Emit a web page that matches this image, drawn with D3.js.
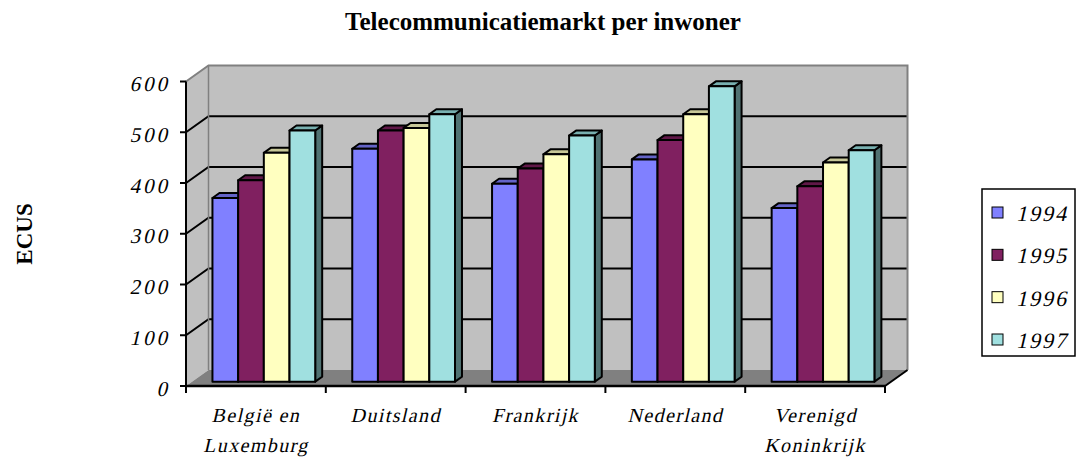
<!DOCTYPE html>
<html>
<head>
<meta charset="utf-8">
<script src="https://cdn.jsdelivr.net/npm/d3@7"></script>
<style>
    body { margin: 0; background: #ffffff; }
    svg { display: block; font-family: "Liberation Serif", "Times New Roman", serif; }
</style>
</head>
<body>
<div class="graph"></div>
<script>
// Chart data
const categories = ["België en Luxemburg", "Duitsland", "Frankrijk", "Nederland", "Verenigd Koninkrijk"];
const tickLabels = [["België en", "Luxemburg"], ["Duitsland"], ["Frankrijk"], ["Nederland"], ["Verenigd", "Koninkrijk"]];
const years = ["1994", "1995", "1996", "1997"];
const values1994 = [362, 459, 390, 438, 342];
const values1995 = [397, 495, 420, 476, 385];
const values1996 = [451, 500, 448, 527, 432];
const values1997 = [495, 527, 485, 582, 456];
const yTicks = [0, 100, 200, 300, 400, 500, 600];

const seriesValues = [values1994, values1995, values1996, values1997];
const colors = ["#8080ff", "#802060", "#ffffc0", "#a0e0e0"];
const topColors = ["#6464c8", "#601848", "#c8c898", "#78b0b0"];
const sideColors = ["#50509c", "#4a1238", "#9c9c76", "#507272"];

// the italic face is missing here, so slant the upright serif by hand
function slanted(sel, x, y) {
    return sel.append("text")
        .attr("transform", `translate(${x},${y}) skewX(-13)`);
}

function drawChart() {
    const dimensions = {
        width: 1077,
        height: 457,
        plot: { left: 186, right: 885, top: 81.5, bottom: 386 },
        depth: { dx: 22.5, dy: -16 },
        barFront: 0.27,   // where the front face of a bar sits in the depth (0 = front, 1 = back)
        barBack: 0.58
    };

    const { plot, depth } = dimensions;
    const off = z => [depth.dx * z, depth.dy * z];

    const svg = d3.select(".graph")
        .append("svg")
            .attr("width", dimensions.width)
            .attr("height", dimensions.height);

    // scales
    const yScale = d3.scaleLinear()
        .domain([0, 600])
        .range([plot.bottom, plot.top]);

    const xScale = d3.scaleBand()
        .domain(categories)
        .range([plot.left, plot.right])
        .paddingInner(0.265)
        .paddingOuter(0.1325)
        .align(0.55);

    const xStep = d3.scaleBand()
        .domain(categories)
        .range([plot.left, plot.right]);

    const xSeries = d3.scaleBand()
        .domain(years)
        .range([0, xScale.bandwidth()]);

    const [bx, by] = off(1);
    const line = d3.line();

    // walls and floor
    svg.append("path")
        .attr("d", line([[plot.left, plot.bottom], [plot.left, plot.top], [plot.left + bx, plot.top + by], [plot.left + bx, plot.bottom + by]]) + "Z")
        .attr("fill", "#c0c0c0");
    svg.append("rect")
        .attr("x", plot.left + bx)
        .attr("y", plot.top + by)
        .attr("width", plot.right - plot.left)
        .attr("height", plot.bottom - plot.top)
        .attr("fill", "#c0c0c0");
    svg.append("path")
        .attr("d", line([[plot.left, plot.bottom], [plot.right, plot.bottom], [plot.right + bx, plot.bottom + by], [plot.left + bx, plot.bottom + by]]) + "Z")
        .attr("fill", "#808080");

    // gridlines on back and side wall
    const grid = svg.append("g")
        .attr("stroke", "#000")
        .attr("stroke-width", 2)
        .attr("fill", "none");
    yTicks.filter(t => t > 0 && t < 600).forEach(t => {
        const y = yScale(t);
        grid.append("path")
            .attr("d", line([[plot.left, y], [plot.left + bx, y + by], [plot.right + bx, y + by]]));
    });

    // wall edges
    svg.append("path")
        .attr("d", line([[plot.left, plot.top], [plot.left + bx, plot.top + by], [plot.right + bx, plot.top + by], [plot.right + bx, plot.bottom + by]]))
        .attr("fill", "none")
        .attr("stroke", "#808080")
        .attr("stroke-width", 2);
    svg.append("path")
        .attr("d", line([[plot.left + bx, plot.top + by], [plot.left + bx, plot.bottom + by]]))
        .attr("fill", "none")
        .attr("stroke", "#808080")
        .attr("stroke-width", 1.5);
    svg.append("path")
        .attr("d", line([[plot.right, plot.bottom], [plot.right + bx, plot.bottom + by]]))
        .attr("fill", "none")
        .attr("stroke", "#000")
        .attr("stroke-width", 2);

    // bars
    const [fx, fy] = off(dimensions.barFront);
    const [dx, dy] = off(dimensions.barBack - dimensions.barFront);
    const bars = svg.append("g")
        .attr("stroke", "#000")
        .attr("stroke-width", 2)
        .attr("stroke-linejoin", "round");

    categories.forEach((cat, ci) => {
        years.forEach((yr, si) => {
            const x0 = xScale(cat) + xSeries(yr) + fx;
            const x1 = x0 + xSeries.bandwidth();
            const yTop = yScale(seriesValues[si][ci]) + fy;
            const yBot = yScale(0) + fy;
            bars.append("path")
                .attr("d", line([[x1, yTop], [x1 + dx, yTop + dy], [x1 + dx, yBot + dy], [x1, yBot]]) + "Z")
                .attr("fill", sideColors[si]);
            bars.append("path")
                .attr("d", line([[x0, yTop], [x0 + dx, yTop + dy], [x1 + dx, yTop + dy], [x1, yTop]]) + "Z")
                .attr("fill", topColors[si]);
            bars.append("rect")
                .attr("x", x0)
                .attr("y", yTop)
                .attr("width", x1 - x0)
                .attr("height", yBot - yTop)
                .attr("fill", colors[si]);
        });
    });

    // y axis
    const yAxis = svg.append("g");
    yAxis.append("line")
        .attr("x1", plot.left).attr("x2", plot.left)
        .attr("y1", yScale(600)).attr("y2", yScale(0))
        .attr("stroke", "#000").attr("stroke-width", 2);
    yAxis.selectAll(".tick")
        .data(yTicks)
        .join("line")
            .attr("x1", plot.left - 6).attr("x2", plot.left)
            .attr("y1", d => yScale(d)).attr("y2", d => yScale(d))
            .attr("stroke", "#000").attr("stroke-width", 2);
    yTicks.forEach(t => {
        slanted(yAxis, plot.left - 16, yScale(t) + 9.5)
            .attr("text-anchor", "end")
            .attr("font-size", 21)
            .attr("letter-spacing", 3)
            .text(t);
    });

    // x axis
    const xAxis = svg.append("g");
    xAxis.append("line")
        .attr("x1", plot.left).attr("x2", plot.right)
        .attr("y1", plot.bottom).attr("y2", plot.bottom)
        .attr("stroke", "#000").attr("stroke-width", 2.5);
    const bounds = categories.map(c => xStep(c)).concat([plot.right]);
    xAxis.selectAll(".tick")
        .data(bounds)
        .join("line")
            .attr("x1", d => d).attr("x2", d => d)
            .attr("y1", plot.bottom).attr("y2", plot.bottom + 7)
            .attr("stroke", "#000").attr("stroke-width", 2);
    categories.forEach((c, i) => {
        const cx = xStep(c) + xStep.bandwidth() / 2;
        tickLabels[i].forEach((txt, j) => {
            slanted(xAxis, cx, 422 + j * 29.5)
                .attr("text-anchor", "middle")
                .attr("font-size", 20)
                .attr("letter-spacing", 1.4)
                .text(txt);
        });
    });

    // titles
    svg.append("text")
        .attr("x", 543)
        .attr("y", 30)
        .attr("text-anchor", "middle")
        .attr("font-size", 25)
        .attr("font-weight", "bold")
        .text("Telecommunicatiemarkt per inwoner");

    svg.append("text")
        .attr("transform", "translate(32,234) rotate(-90)")
        .attr("text-anchor", "middle")
        .attr("font-size", 23)
        .attr("font-weight", "bold")
        .text("ECUS");

    // legend
    const legend = svg.append("g");
    legend.append("rect")
        .attr("x", 982).attr("y", 189)
        .attr("width", 93).attr("height", 167)
        .attr("fill", "#fff")
        .attr("stroke", "#000").attr("stroke-width", 1.5);
    const legendY = d3.scalePoint()
        .domain(years)
        .range([213, 340]);
    years.forEach((yr, i) => {
        const y = legendY(yr);
        legend.append("rect")
            .attr("x", 992).attr("y", y - 6)
            .attr("width", 11).attr("height", 11)
            .attr("fill", colors[i])
            .attr("stroke", "#000").attr("stroke-width", 1);
        slanted(legend, 1016, y + 8)
            .attr("font-size", 22)
            .attr("letter-spacing", 2)
            .text(yr);
    });
}

drawChart();
</script>
</body>
</html>
